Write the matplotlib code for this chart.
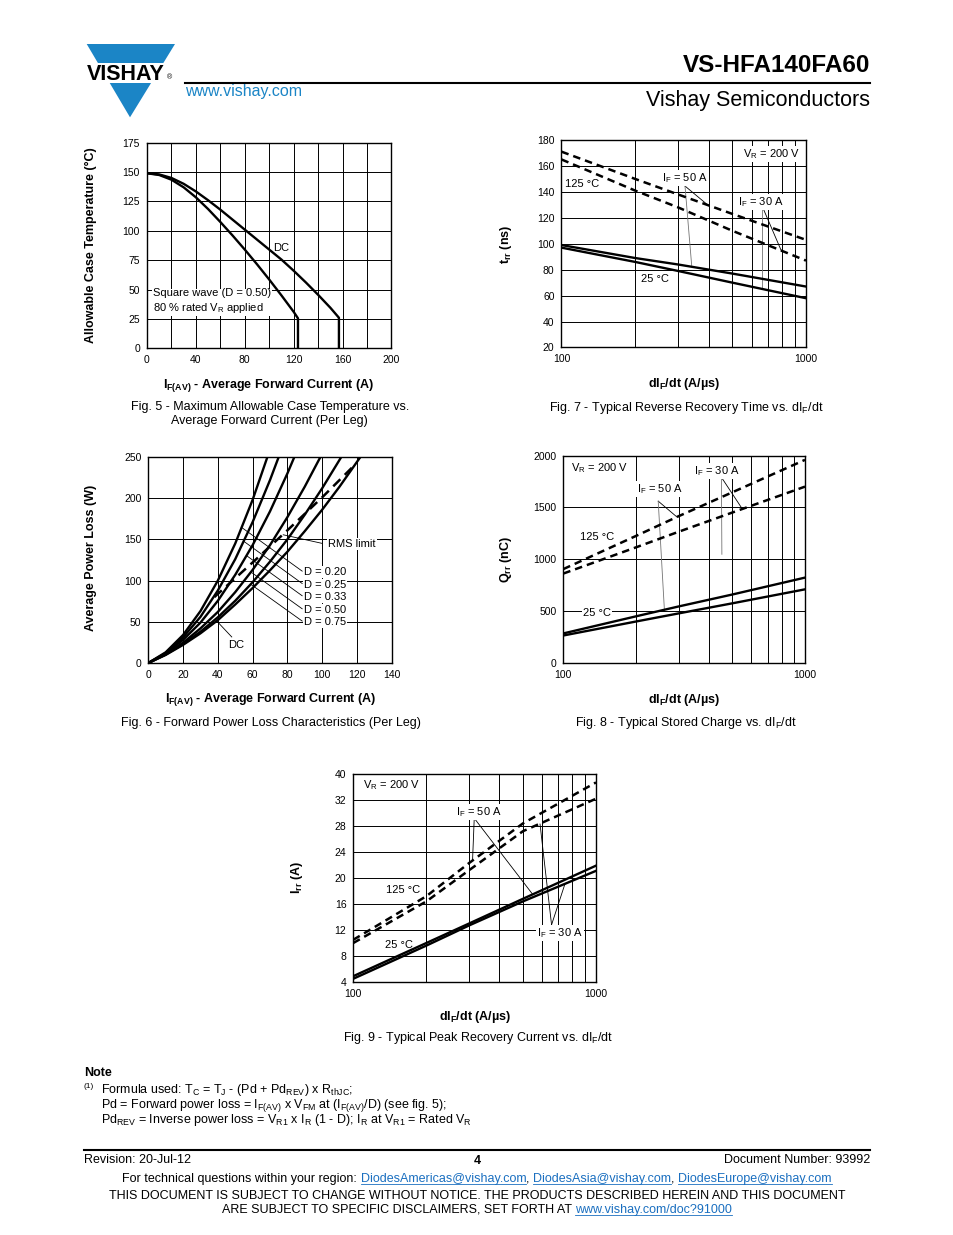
import matplotlib
matplotlib.use('Agg')
import matplotlib.pyplot as plt
from matplotlib.patches import Polygon, Rectangle

plt.rcParams['font.family'] = 'Liberation Sans'
plt.rcParams['mathtext.fontset'] = 'custom'
plt.rcParams['mathtext.rm'] = 'Liberation Sans'
plt.rcParams['mathtext.it'] = 'Liberation Sans:italic'
plt.rcParams['mathtext.bf'] = 'Liberation Sans:bold'
plt.rcParams['mathtext.default'] = 'regular'

W, H = 954, 1235
BLUE = '#1b85c6'
LINK = '#1a6fc0'

# ---- Fig 5: allowable case temperature vs average forward current
f5_dc_i = [0, 10, 20, 30, 40, 50, 60, 70, 80, 90, 100, 110, 120, 130, 140, 150, 157, 157]
f5_dc_t = [149, 148, 145, 140, 133.5, 126, 118, 109.5, 101, 92.5, 84, 75.5, 66, 56, 45.5, 34.5, 26, 0]
f5_sw_i = [0, 10, 20, 30, 40, 50, 60, 70, 80, 90, 100, 110, 120, 123.5, 123.5]
f5_sw_t = [149, 147.5, 143.5, 137, 128.5, 118.5, 107.5, 96, 84, 71.5, 58.5, 45, 31, 25.5, 0]

# ---- Fig 6: forward power loss
f6_d020_i = [0, 10, 20, 30, 40, 50, 60, 68.5]
f6_d020_p = [0, 13, 34, 63, 100, 145, 198, 250]
f6_d025_i = [0, 10, 20, 30, 40, 50, 60, 70, 75]
f6_d025_p = [0, 12, 31, 56, 88, 126, 171, 222, 250]
f6_d033_i = [0, 10, 20, 30, 40, 50, 60, 70, 80, 84]
f6_d033_p = [0, 11.5, 28, 49, 75.5, 107, 143, 184, 230, 250]
f6_d050_i = [0, 10, 20, 30, 40, 50, 60, 70, 80, 90, 99]
f6_d050_p = [0, 10.6, 24.6, 42, 62, 86, 113, 143, 177, 214, 250]
f6_d075_i = [0, 10, 20, 30, 40, 50, 60, 70, 80, 90, 100, 111]
f6_d075_p = [0, 10.2, 23, 38, 55.5, 75.5, 98, 123, 150, 180, 212, 250]
f6_dc_i = [0, 10, 20, 30, 40, 50, 60, 70, 80, 90, 100, 110, 122]
f6_dc_p = [0, 9.8, 22, 36, 52, 71, 91, 112.5, 135, 160, 186, 214, 250]
f6_rms_i = [38, 60, 80, 100, 119]
f6_rms_p = [80, 122, 161, 201, 241]

# ---- Fig 7/8/9: vs dIF/dt
didt = [100, 200, 300, 500, 1000]
f7_trr_125_50 = [171, 150, 138, 123, 103]
f7_trr_125_30 = [165, 141, 128, 110, 87]
f7_trr_25_50 = [99, 89, 84, 77, 67]
f7_trr_25_30 = [97, 86, 79, 70, 58]

f8_qrr_125_50 = [905, 1225, 1415, 1645, 1958]
f8_qrr_125_30 = [862, 1115, 1265, 1450, 1700]
f8_qrr_25_50 = [285, 450, 545, 660, 823]
f8_qrr_25_30 = [265, 400, 478, 575, 710]

f9_irr_125_50 = [10.5, 17.2, 22.3, 28.4, 34.7]
f9_irr_125_30 = [10.0, 16.4, 21.2, 27.2, 32.2]
f9_irr_25_50 = [4.9, 10.0, 13.0, 16.8, 21.9]
f9_irr_25_30 = [4.5, 9.6, 12.7, 16.4, 21.1]
f9_ytick_labels = ['4', '8', '12', '16', '20', '24', '28', '32', '40']

log_minor = [200, 300, 400, 500, 600, 700, 800, 900]

fig = plt.figure(figsize=(W / 100, H / 100), dpi=100)
page = fig.add_axes([0, 0, 1, 1])
page.set_xlim(0, W)
page.set_ylim(H, 0)
page.axis('off')


def chart_axes(left, top, right, bottom):
    ax = fig.add_axes([left / W, 1 - bottom / H, (right - left) / W, (bottom - top) / H])
    for s in ax.spines.values():
        s.set_linewidth(1.0)
    ax.tick_params(which='both', length=0, labelsize=7.5, pad=5)
    ax.grid(True, which='both', color='black', lw=0.7)
    ax.set_axisbelow(True)
    return ax


def label(ax, x, y, s, ha='center'):
    ax.text(x, y, s, ha=ha, va='center', fontsize=8, zorder=4,
            bbox=dict(fc='white', ec='none', pad=0.8))


def leader(ax, xs, ys, color='black'):
    ax.plot(xs, ys, color=color, lw=0.6, zorder=3)


def curve(ax, x, y, dashed=False, dash=(3, 2)):
    if dashed:
        ax.plot(x, y, color='black', lw=1.8, linestyle=(0, dash), zorder=5)
    else:
        ax.plot(x, y, color='black', lw=1.7, zorder=5)


def ptext(x, y, s, size=9, **kw):
    page.text(x, y, s, fontsize=size, **kw)


def setup_log(ax, ylim, yticks, ylabels=None):
    ax.set_xscale('log')
    ax.set_xlim(100, 1000)
    ax.set_xticks([100, 1000])
    ax.set_xticklabels(['100', '1000'])
    ax.set_xticks(log_minor, minor=True)
    ax.set_xticklabels([], minor=True)
    ax.set_ylim(*ylim)
    ax.set_yticks(yticks)
    if ylabels is not None:
        ax.set_yticklabels(ylabels)


# ---------------- header
page.add_patch(Polygon([(86.7, 44), (175, 44), (130, 117.3)], closed=True, fc=BLUE, ec='none'))
page.add_patch(Rectangle((80, 62.7), 100, 20, fc='white', ec='none'))
ptext(125.5, 79.5, 'VISHAY', size=15.5, fontweight='bold', ha='center', va='baseline')
ptext(169.5, 79, '®', size=5, ha='center', va='baseline')
page.plot([185, 870], [82.5, 82.5], color='black', lw=1.5)
ptext(870, 72, 'VS-HFA140FA60', size=17.5, fontweight='bold', ha='right', va='baseline')
ptext(870, 106, 'Vishay Semiconductors', size=15.5, ha='right', va='baseline')
ptext(185, 96, 'www.vishay.com', size=11.5, color=BLUE, ha='left', va='baseline')

# ---------------- Fig 5
ax5 = chart_axes(147, 142.7, 391.5, 348.3)
ax5.set_xlim(0, 200)
ax5.set_ylim(0, 175)
ax5.set_xticks(range(0, 201, 40))
ax5.set_xticks(range(20, 200, 40), minor=True)
ax5.set_yticks(range(0, 176, 25))
curve(ax5, f5_dc_i, f5_dc_t)
curve(ax5, f5_sw_i, f5_sw_t)
label(ax5, 110, 85.4, 'DC')
ax5.text(4.7, 40, 'Square wave (D = 0.50)\n80 % rated V$_R$ applied', ha='left', va='center',
         fontsize=8, zorder=4, linespacing=1.25, bbox=dict(fc='white', ec='none', pad=0.8))
ptext(91, 245.5, 'Allowable Case Temperature (°C)', fontweight='bold', rotation=90, ha='center', va='center')
ptext(269, 386, '$I_{F(AV)}$ - Average Forward Current (A)', fontweight='bold', ha='center', va='center')
ptext(270, 407, 'Fig. 5 - Maximum Allowable Case Temperature vs.', ha='center', va='center')
ptext(269, 421, 'Average Forward Current (Per Leg)', ha='center', va='center')

# ---------------- Fig 7
ax7 = chart_axes(561.5, 140, 806, 347.5)
setup_log(ax7, (20, 180), range(20, 181, 20))
curve(ax7, didt, f7_trr_125_50, dashed=True)
curve(ax7, didt, f7_trr_125_30, dashed=True)
curve(ax7, didt, f7_trr_25_50)
curve(ax7, didt, f7_trr_25_30)
label(ax7, 720, 169.2, 'V$_R$ = 200 V')
label(ax7, 122, 146.1, '125 °C')
label(ax7, 241, 72.8, '25 °C')
label(ax7, 320, 150.7, 'I$_F$ = 50 A')
label(ax7, 655, 132.2, 'I$_F$ = 30 A')
leader(ax7, [320, 393], [144.5, 130.5])
leader(ax7, [320, 341], [144.5, 82.5], color='0.45')
leader(ax7, [667, 795], [127.5, 94])
leader(ax7, [659, 659], [127.5, 65], color='0.45')
ptext(506, 244, '$t_{rr}$ (ns)', fontweight='bold', rotation=90, ha='center', va='center')
ptext(684, 384, 'dI$_F$/dt (A/µs)', fontweight='bold', ha='center', va='center')
ptext(686, 408, 'Fig. 7 - Typical Reverse Recovery Time vs. dI$_F$/dt', ha='center', va='center')

# ---------------- Fig 6
ax6 = chart_axes(148.3, 457, 391.7, 663)
ax6.set_xlim(0, 140)
ax6.set_ylim(0, 250)
ax6.set_xticks(range(0, 141, 20))
ax6.set_yticks(range(0, 251, 50))
for xi, yi in [(f6_d020_i, f6_d020_p), (f6_d025_i, f6_d025_p), (f6_d033_i, f6_d033_p),
               (f6_d050_i, f6_d050_p), (f6_d075_i, f6_d075_p), (f6_dc_i, f6_dc_p)]:
    curve(ax6, xi, yi)
curve(ax6, f6_rms_i, f6_rms_p, dashed=True, dash=(4, 2.5))
label(ax6, 103.4, 144.4, 'RMS limit', ha='left')
leader(ax6, [99.7, 77.6], [145.3, 155.6])
for txt, py, ex, ey in [('D = 0.20', 110, 53.5, 164.8), ('D = 0.25', 95, 55.1, 147.4),
                        ('D = 0.33', 80.1, 56.7, 130), ('D = 0.50', 64.3, 59.1, 110.3),
                        ('D = 0.75', 49.4, 59.5, 94.7)]:
    label(ax6, 89.6, py, txt, ha='left')
    leader(ax6, [88.5, ex], [py + 1.5, ey])
label(ax6, 50.7, 21.8, 'DC')
leader(ax6, [48, 38.9], [31.6, 52])
ptext(91, 557.5, 'Average Power Loss (W)', fontweight='bold', rotation=90, ha='center', va='center')
ptext(271, 699, '$I_{F(AV)}$ - Average Forward Current (A)', fontweight='bold', ha='center', va='center')
ptext(271, 723, 'Fig. 6 - Forward Power Loss Characteristics (Per Leg)', ha='center', va='center')

# ---------------- Fig 8
ax8 = chart_axes(563.3, 455.5, 805, 663)
setup_log(ax8, (0, 2000), range(0, 2001, 500))
curve(ax8, didt, f8_qrr_125_50, dashed=True)
curve(ax8, didt, f8_qrr_125_30, dashed=True)
curve(ax8, didt, f8_qrr_25_50)
curve(ax8, didt, f8_qrr_25_30)
label(ax8, 141, 1880, 'V$_R$ = 200 V')
label(ax8, 138, 1216, '125 °C')
label(ax8, 138, 484, '25 °C')
label(ax8, 250, 1677, 'I$_F$ = 50 A')
label(ax8, 433, 1848, 'I$_F$ = 30 A')
leader(ax8, [247, 295], [1560, 1408])
leader(ax8, [247, 262], [1560, 510], color='0.45')
leader(ax8, [451, 551], [1790, 1483])
leader(ax8, [451, 453], [1790, 1048], color='0.45')
ptext(506, 560, '$Q_{rr}$ (nC)', fontweight='bold', rotation=90, ha='center', va='center')
ptext(684, 700, 'dI$_F$/dt (A/µs)', fontweight='bold', ha='center', va='center')
ptext(686, 723, 'Fig. 8 - Typical Stored Charge vs. dI$_F$/dt', ha='center', va='center')

# ---------------- Fig 9
ax9 = chart_axes(353.3, 774, 596, 982)
setup_log(ax9, (4, 36), range(4, 37, 4), f9_ytick_labels)
curve(ax9, didt, f9_irr_125_50, dashed=True)
curve(ax9, didt, f9_irr_125_30, dashed=True)
curve(ax9, didt, f9_irr_25_50)
curve(ax9, didt, f9_irr_25_30)
label(ax9, 143.6, 34.3, 'V$_R$ = 200 V')
label(ax9, 328, 30.1, 'I$_F$ = 50 A')
label(ax9, 160, 18.2, '125 °C')
label(ax9, 155, 9.7, '25 °C')
label(ax9, 708, 11.6, 'I$_F$ = 30 A')
leader(ax9, [315, 310], [29.2, 22.7])
leader(ax9, [315, 548], [29.2, 17.5])
leader(ax9, [656, 588], [12.8, 28.3])
leader(ax9, [656, 745], [12.8, 19.1])
ptext(297, 877, '$I_{rr}$ (A)', fontweight='bold', rotation=90, ha='center', va='center')
ptext(475, 1017, 'dI$_F$/dt (A/µs)', fontweight='bold', ha='center', va='center')
ptext(478, 1038, 'Fig. 9 - Typical Peak Recovery Current vs. dI$_F$/dt', ha='center', va='center')

# ---------------- note
ptext(84, 1076, 'Note', fontweight='bold', ha='left', va='baseline')
ptext(84, 1088.5, '(1)', size=6, ha='left', va='baseline')
ptext(101, 1093, 'Formula used: T$_C$ = T$_J$ - (Pd + Pd$_{REV}$) x R$_{thJC}$;', ha='left', va='baseline')
ptext(101, 1107.5, 'Pd = Forward power loss = I$_{F(AV)}$ x V$_{FM}$ at (I$_{F(AV)}$/D) (see fig. 5);',
      ha='left', va='baseline')
ptext(101, 1123, 'Pd$_{REV}$ = Inverse power loss = V$_{R1}$ x I$_R$ (1 - D); I$_R$ at V$_{R1}$ = Rated V$_R$',
      ha='left', va='baseline')

# ---------------- footer
page.plot([84, 870], [1149.5, 1149.5], color='black', lw=1.5)
ptext(84, 1163, 'Revision: 20-Jul-12', ha='left', va='baseline')
ptext(477, 1164, '4', fontweight='bold', ha='center', va='baseline')
ptext(870, 1163, 'Document Number: 93992', ha='right', va='baseline')

renderer = fig.canvas.get_renderer()


def text_width(s, size):
    t = page.text(0, 0, s, fontsize=size)
    w = t.get_window_extent(renderer).width
    t.remove()
    return w


def runs(xc, y, parts, size=9):
    space = text_width('a a', size) - text_width('aa', size)
    widths = [text_width(s, size) for s, _, _ in parts]
    total = sum(widths) + space * sum(1 for _, _, sp in parts if sp)
    x = xc - total / 2
    for (s, link, sp), w in zip(parts, widths):
        page.text(x, y, s, fontsize=size, color=LINK if link else 'black', ha='left', va='baseline')
        if link:
            page.plot([x, x + w], [y + 1.8, y + 1.8], color=LINK, lw=0.6)
        x += w + (space if sp else 0)


runs(477, 1182, [('For technical questions within your region:', False, True),
                 ('DiodesAmericas@vishay.com', True, False), (',', False, True),
                 ('DiodesAsia@vishay.com', True, False), (',', False, True),
                 ('DiodesEurope@vishay.com', True, False)])
ptext(477, 1199, 'THIS DOCUMENT IS SUBJECT TO CHANGE WITHOUT NOTICE. THE PRODUCTS DESCRIBED HEREIN AND THIS DOCUMENT',
      ha='center', va='baseline')
runs(477, 1213, [('ARE SUBJECT TO SPECIFIC DISCLAIMERS, SET FORTH AT', False, True),
                 ('www.vishay.com/doc?91000', True, False)])

fig.savefig('out.png', dpi=100)
